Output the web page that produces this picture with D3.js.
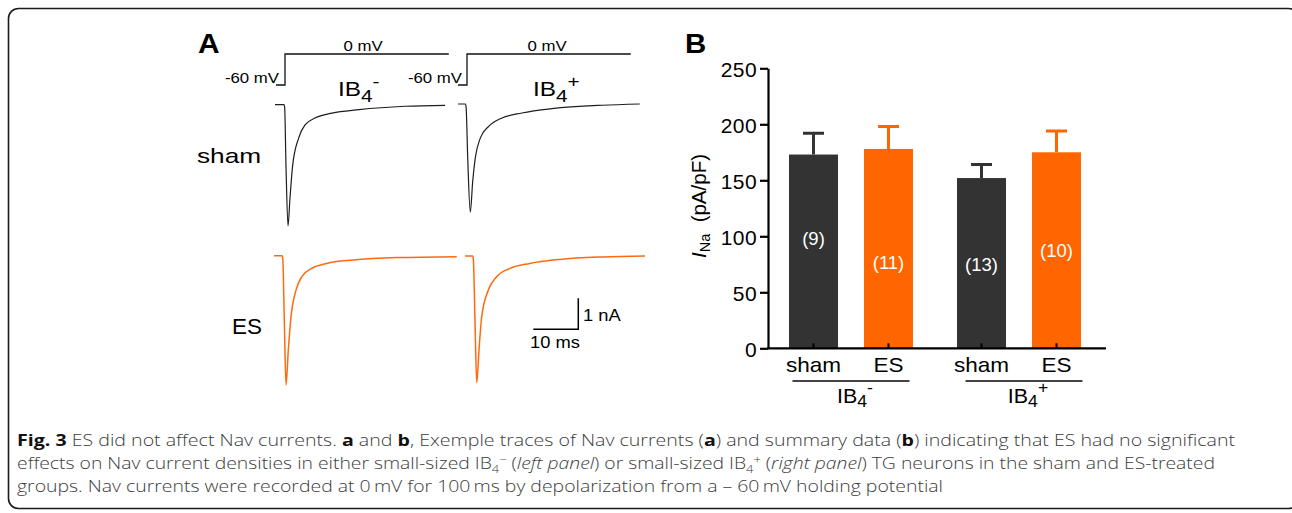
<!DOCTYPE html>
<html><head><meta charset="utf-8">
<script src="https://cdn.jsdelivr.net/npm/d3@7/dist/d3.min.js"></script>
<style>
html,body{margin:0;padding:0;background:#fff;}
svg{display:block;}
text{white-space:pre;}
</style></head><body>
<svg id="fig" width="1292" height="513"></svg>
<script>
// ================= DATA =================
// Panel A – voltage protocol (ms, mV)
const protocolTime = [0, 2, 2, 38.4];
const protocolVolt = [-60, -60, 0, 0];
const protocolLabels = ["0 mV", "-60 mV"];

// Panel A – current traces (time in ms, current in nA)
const shamNegTime    = [0, 2.0, 2.15, 2.44, 2.89, 3.33, 3.93, 5.27, 6.67, 8.89, 12.67, 18.67, 28.9, 37.8];
const shamNegCurrent = [0, 0, -0.1, -1.95, -3.91, -3.01, -1.95, -1.07, -0.65, -0.43, -0.27, -0.16, -0.05, -0.02];
const shamPosTime    = [0, 1.65, 1.8, 2.16, 2.73, 3.27, 3.84, 4.96, 6.82, 9.78, 14.2, 20.9, 32, 40.4];
const shamPosCurrent = [0, 0, -0.1, -1.74, -3.49, -2.49, -1.74, -1.10, -0.72, -0.45, -0.29, -0.15, -0.04, 0];
const esNegTime      = [0, 1.8, 1.95, 2.29, 2.67, 3.18, 3.78, 4.89, 6.16, 8.38, 11.7, 17.6, 27.3, 40.6];
const esNegCurrent   = [0, 0, -0.1, -2.07, -4.17, -3.04, -1.97, -1.11, -0.68, -0.41, -0.25, -0.14, -0.06, -0.03];
const esPosTime      = [0, 1.7, 1.85, 2.22, 2.6, 3.11, 3.71, 5.18, 7.04, 10, 14.4, 21.1, 30.7, 40];
const esPosCurrent   = [0, 0, -0.1, -2.06, -4.09, -3.03, -1.96, -1.10, -0.67, -0.40, -0.24, -0.11, -0.03, 0];
const scaleBarTime = 10;     // ms
const scaleBarCurrent = 1;   // nA

// Panel B – bar chart
const barGroups = ["IB4-", "IB4+"];
const barConditions = ["sham", "ES"];
const barMeans = [173, 178, 152, 175];   // pA/pF
const barSems  = [19, 20, 12, 19];
const barN     = [9, 11, 13, 10];
const yTicks   = [0, 50, 100, 150, 200, 250];

// Caption
const captionLines = [
  [["Fig. 3","b"],[" ES did not affect Nav currents. "],["a","b"],[" and "],["b","b"],[", Exemple traces of Nav currents ("],["a","b"],[") and summary data ("],["b","b"],[") indicating that ES had no significant"]],
  [["effects on Nav current densities in either small-sized IB"],["4","sub"],["\u2212","sup"],[" ("],["left panel","i"],[") or small-sized IB"],["4","sub"],["+","sup"],[" ("],["right panel","i"],[") TG neurons in the sham and ES-treated"]],
  [["groups. Nav currents were recorded at 0\u2009mV for 100\u2009ms by depolarization from a \u2013 60\u2009mV holding potential"]]
];

// ================= LAYOUT / STYLE =================
const FONT = "'Liberation Sans', Arial, Helvetica, sans-serif";
const BLACK_TRACE = "#1e1e1e";
const ORANGE = "#ff6600";
const DARK = "#333333";

const svg = d3.select("#fig");

// figure frame
svg.append("rect").attr("x", 8.5).attr("y", 8.5).attr("width", 1290).attr("height", 500)
  .attr("rx", 10).attr("fill", "none").attr("stroke", "#1a1a1a").attr("stroke-width", 1.6);

// helper for horizontally scaled text
function label(x, y, sx, size, anchor, weight) {
  return svg.append("g").attr("transform", `translate(${x},${y}) scale(${sx},1)`)
    .append("text").attr("font-family", FONT).attr("font-size", size)
    .attr("text-anchor", anchor || "start").attr("font-weight", weight || "normal").attr("fill", "#000");
}
function ib4(textSel, sign, subSize, subDy, supDy, supDx) {
  textSel.append("tspan").text("IB");
  textSel.append("tspan").attr("font-size", subSize).attr("dy", subDy).text("4");
  textSel.append("tspan").attr("font-size", subSize).attr("dy", supDy).attr("dx", supDx).text(sign);
}

// ================= PANEL A =================
const tScale = d3.scaleLinear().domain([0, 10]).range([0, 45]);   // ms -> px
const iScale = d3.scaleLinear().domain([0, -1]).range([0, 31]);   // nA -> px (down)
const vScale = d3.scaleLinear().domain([0, -60]).range([0, 31]);  // mV -> px (down)

label(198, 53, 1.07, 28, "start", "bold").text("A");

// protocols
const protocolPos = [{x: 276, y: 54, labelX0: 363, labelX60: 279}, {x: 458, y: 54, labelX0: 547, labelX60: 462}];
const protoData = protocolTime.map((t, i) => [t, protocolVolt[i]]);
const protoLine = d3.line().x(d => tScale(d[0])).y(d => vScale(d[1]));
protocolPos.forEach(p => {
  svg.append("g").attr("transform", `translate(${p.x},${p.y})`)
    .append("path").attr("d", protoLine(protoData)).attr("fill", "none")
    .attr("stroke", "#111").attr("stroke-width", 1.3);
  label(p.labelX0, 50.5, 1.2, 14, "middle").text(protocolLabels[0]);
  label(p.labelX60, 83.3, 1.2, 14, "end").text(protocolLabels[1]);
});

// IB4 headers
ib4(label(338, 96, 1.22, 20), "-", 17, 6, -15, 0);
ib4(label(533, 96, 1.22, 20), "+", 17, 6, -15, 0);

// row labels
label(197, 162.5, 1.25, 21).text("sham");
label(232, 334, 1.02, 22).text("ES");

// traces
const traceLine = d3.line().x(d => tScale(d[0])).y(d => iScale(d[1])).curve(d3.curveMonotoneX);
const traces = [
  {time: shamNegTime, current: shamNegCurrent, x: 275, y: 104.7, color: BLACK_TRACE, w: 1.2},
  {time: shamPosTime, current: shamPosCurrent, x: 458, y: 104,   color: BLACK_TRACE, w: 1.2},
  {time: esNegTime,   current: esNegCurrent,   x: 274, y: 255.7, color: "#ff6a10", w: 1.5},
  {time: esPosTime,   current: esPosCurrent,   x: 465, y: 256,   color: "#ff6a10", w: 1.5}
];
traces.forEach(tr => {
  const pts = tr.time.map((t, i) => [t, tr.current[i]]);
  svg.append("g").attr("transform", `translate(${tr.x},${tr.y})`)
    .append("path").attr("d", traceLine(pts)).attr("fill", "none")
    .attr("stroke", tr.color).attr("stroke-width", tr.w).attr("stroke-linejoin", "round");
});

// scale bar
const sb = svg.append("g").attr("transform", "translate(578.3,329.3)");
sb.append("path")
  .attr("d", `M${-tScale(scaleBarTime)},0H0V${-iScale(-scaleBarCurrent)}`)
  .attr("fill", "none").attr("stroke", "#000").attr("stroke-width", 1.5);
label(583, 320.7, 1.08, 17).text(scaleBarCurrent + " nA");
label(530, 347.7, 1.08, 17).text(scaleBarTime + " ms");

// ================= PANEL B =================
label(685, 53, 1.05, 28, "start", "bold").text("B");

const yScale = d3.scaleLinear().domain([0, 250]).range([348.3, 68.3]);
const groupX = d3.scalePoint().domain(barGroups).range([851, 1019]);
const condX = d3.scaleBand().domain(barConditions).range([-75, 75]).paddingInner(0.347).paddingOuter(0.1735);
const condColor = {sham: DARK, ES: ORANGE};
const nLabelY = [245, 268.5, 270.5, 257];   // label baselines (layout)

const bars = barMeans.map((m, i) => ({
  group: barGroups[Math.floor(i / 2)], cond: barConditions[i % 2],
  mean: m, sem: barSems[i], n: barN[i], idx: i
}));
const cx = d => groupX(d.group) + condX(d.cond) + condX.bandwidth() / 2;

const gB = svg.append("g");
// error bars (behind bars)
gB.selectAll(".err").data(bars).join("path").attr("class", "err")
  .attr("d", d => `M${cx(d)},${yScale(d.mean)}V${yScale(d.mean + d.sem)}M${cx(d) - 10.5},${yScale(d.mean + d.sem)}H${cx(d) + 10.5}`)
  .attr("stroke", d => condColor[d.cond]).attr("stroke-width", 3).attr("fill", "none");
gB.selectAll(".bar").data(bars).join("rect").attr("class", "bar")
  .attr("x", d => groupX(d.group) + condX(d.cond))
  .attr("width", condX.bandwidth())
  .attr("y", d => yScale(d.mean))
  .attr("height", d => yScale(0) - yScale(d.mean))
  .attr("fill", d => condColor[d.cond]);
// n labels
gB.selectAll(".nlab").data(bars).join("text").attr("class", "nlab")
  .attr("x", cx).attr("y", d => nLabelY[d.idx])
  .attr("text-anchor", "middle").attr("font-family", FONT).attr("font-size", 18.5)
  .attr("fill", "#fff").text(d => `(${d.n})`);

// y axis
const yAxis = svg.append("g").attr("transform", "translate(768,0)")
  .call(d3.axisLeft(yScale).tickValues(yTicks).tickSize(8).tickSizeOuter(0).tickPadding(3));
yAxis.select(".domain").attr("stroke", "#000").attr("stroke-width", 2.2);
yAxis.selectAll(".tick line").attr("stroke", "#000").attr("stroke-width", 2.2);
yAxis.selectAll(".tick text").attr("font-family", FONT).attr("font-size", 21)
  .attr("fill", "#000").attr("letter-spacing", 0.4).attr("dy", "0.4em");

// x axis line + inner ticks
svg.append("line").attr("x1", 767).attr("x2", 1106).attr("y1", yScale(0)).attr("y2", yScale(0))
  .attr("stroke", "#000").attr("stroke-width", 2.2);
gB.selectAll(".xt").data(bars).join("line").attr("class", "xt")
  .attr("x1", cx).attr("x2", cx).attr("y1", yScale(0)).attr("y2", yScale(0) - 5)
  .attr("stroke", "#000").attr("stroke-width", 2);

// category labels
bars.forEach(d => {
  label(cx(d), 372.3, 1.1, 20.5, "middle").text(d.cond);
});
// group underline and labels
barGroups.forEach((g, i) => {
  const c = groupX(g) + (i === 1 ? 5 : 0);
  svg.append("line").attr("x1", c - 58.5).attr("x2", c + 58.5).attr("y1", 381).attr("y2", 381)
    .attr("stroke", "#444").attr("stroke-width", 1.8);
  ib4(label(c + 4, 403.3, 1.1, 19.5, "middle"), g.slice(-1), 16, 4, -14, 0);
});

// y axis title
const yt = svg.append("g").attr("transform", "translate(706,206) rotate(-90)")
  .append("text").attr("text-anchor", "middle").attr("font-family", FONT).attr("font-size", 20.5).attr("fill", "#000");
yt.append("tspan").attr("font-style", "italic").text("I");
yt.append("tspan").attr("font-size", 14.5).attr("dy", 4).text("Na");
yt.append("tspan").attr("dy", -4).text("  (pA/pF)");

// ================= CAPTION =================
const capBase = [446, 469, 492];
const capLen = [1218, 1198, 926];
captionLines.forEach((segs, li) => {
  const t = svg.append("text").attr("x", 17).attr("y", capBase[li])
    .attr("font-family", "'Open Sans', 'Noto Sans', sans-serif").attr("font-size", 16.5).attr("font-weight", 300)
    .attr("fill", "#3c3c3c").attr("textLength", capLen[li]).attr("lengthAdjust", "spacingAndGlyphs");
  let shift = 0;
  segs.forEach(([s, st]) => {
    const ts = t.append("tspan").text(s);
    if (st === "b") ts.attr("font-weight", "bold").attr("fill", "#111");
    if (st === "i") ts.attr("font-style", "italic");
    let target = 0;
    if (st === "sub") { target = 4; ts.attr("font-size", 11); }
    if (st === "sup") { target = -6; ts.attr("font-size", 11); }
    if (target !== shift) { ts.attr("dy", target - shift); shift = target; }
  });
});
</script>
</body></html>
